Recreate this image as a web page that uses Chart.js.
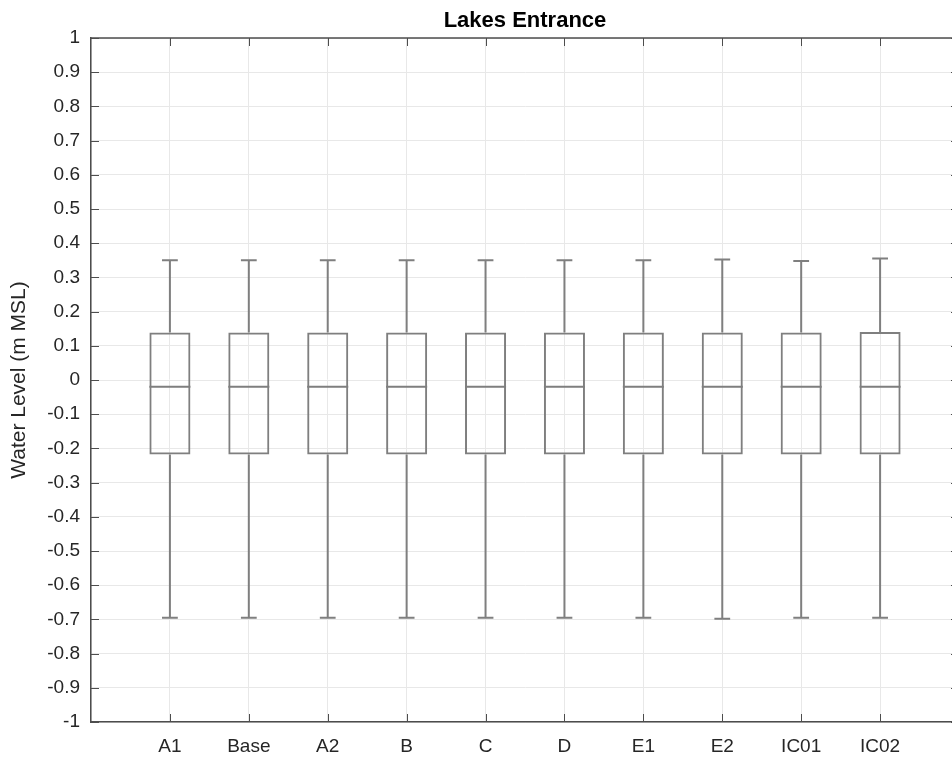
<!DOCTYPE html>
<html>
<head>
<meta charset="utf-8">
<script src="https://cdn.jsdelivr.net/npm/chart.js@4.4.0/dist/chart.umd.min.js"></script>
<style>
  body { margin: 0; background: #fff; overflow: hidden; }
  /* axes box runs slightly past the right edge of the window, as in the figure */
  #wrap { width: 959px; height: 758px; }
</style>
</head>
<body>
<div id="wrap"><canvas id="boxChart"></canvas></div>
<script>
// Box plot values (m MSL)
const categories = ['A1', 'Base', 'A2', 'B', 'C', 'D', 'E1', 'E2', 'IC01', 'IC02'];
const whiskerLow = [-0.695, -0.695, -0.695, -0.695, -0.695, -0.695, -0.695, -0.698, -0.695, -0.695];
const q1 = [-0.218, -0.218, -0.218, -0.218, -0.218, -0.218, -0.218, -0.218, -0.218, -0.218];
const median = [-0.02, -0.02, -0.02, -0.02, -0.02, -0.02, -0.02, -0.02, -0.02, -0.02];
const q3 = [0.139, 0.139, 0.139, 0.139, 0.139, 0.139, 0.139, 0.139, 0.139, 0.14];
const whiskerHigh = [0.35, 0.35, 0.35, 0.35, 0.35, 0.35, 0.35, 0.352, 0.348, 0.355];

const yMin = -1, yMax = 1, yStep = 0.1;

const lineColor = '#7f7f7f';
const axisColor = '#4d4d4d';
const textColor = '#262626';
const fontFamily = '"Liberation Sans", Arial, Helvetica, sans-serif';

const boxHalf = 0.26;  // half box width in category units
const capHalf = 0.1;

// build box, whisker, cap and median segments from the arrays
const boxes = categories.map((c, i) => ({ x: i + 1, y: [q1[i], q3[i]] }));
const whiskerPts = [];
const medianPts = [];
categories.forEach((c, i) => {
  const x = i + 1;
  whiskerPts.push({ x: x, y: q3[i] }, { x: x, y: whiskerHigh[i] }, { x: x, y: null });
  whiskerPts.push({ x: x, y: q1[i] }, { x: x, y: whiskerLow[i] }, { x: x, y: null });
  whiskerPts.push({ x: x - capHalf, y: whiskerHigh[i] }, { x: x + capHalf, y: whiskerHigh[i] }, { x: x, y: null });
  whiskerPts.push({ x: x - capHalf, y: whiskerLow[i] }, { x: x + capHalf, y: whiskerLow[i] }, { x: x, y: null });
  medianPts.push({ x: x - boxHalf, y: median[i] }, { x: x + boxHalf, y: median[i] }, { x: x, y: null });
});

// MATLAB style frame: inward ticks, top border and title
const framePlugin = {
  id: 'frame',
  afterDraw(chart) {
    const ctx = chart.ctx;
    const a = chart.chartArea;
    const xs = chart.scales.x, ys = chart.scales.y;
    ctx.save();
    ctx.strokeStyle = axisColor;
    ctx.lineWidth = 1;
    ctx.beginPath();
    ys.ticks.forEach(t => {
      const py = Math.round(ys.getPixelForValue(t.value)) + 0.5;
      ctx.moveTo(a.left, py); ctx.lineTo(a.left + 8, py);
      ctx.moveTo(a.right, py); ctx.lineTo(a.right - 8, py);
    });
    categories.forEach((c, i) => {
      const px = Math.round(xs.getPixelForValue(i + 1)) + 0.5;
      ctx.moveTo(px, a.bottom); ctx.lineTo(px, a.bottom - 8);
      ctx.moveTo(px, a.top); ctx.lineTo(px, a.top + 8);
    });
    ctx.stroke();
    ctx.lineWidth = 1.5;
    ctx.beginPath();
    ctx.moveTo(a.left, a.top); ctx.lineTo(a.right, a.top);
    ctx.lineTo(a.right, a.bottom);
    ctx.stroke();
    ctx.fillStyle = '#000';
    ctx.font = 'bold 22px ' + fontFamily;
    ctx.textAlign = 'center';
    ctx.textBaseline = 'middle';
    ctx.fillText('Lakes Entrance', (a.left + a.right) / 2, 21);
    ctx.restore();
  }
};

const ctx = document.getElementById('boxChart').getContext('2d');
new Chart(ctx, {
  type: 'bar',
  data: {
    datasets: [
      {
        label: 'Box',
        data: boxes,
        backgroundColor: 'rgba(0,0,0,0)',
        borderColor: lineColor,
        borderWidth: 2,
        borderSkipped: false,
        barPercentage: 0.52,
        categoryPercentage: 1
      },
      {
        type: 'line',
        label: 'Whiskers',
        data: whiskerPts,
        borderColor: lineColor,
        borderWidth: 2,
        pointRadius: 0,
        spanGaps: false,
        fill: false
      },
      {
        type: 'line',
        label: 'Median',
        data: medianPts,
        borderColor: lineColor,
        borderWidth: 2,
        pointRadius: 0,
        spanGaps: false,
        fill: false
      }
    ]
  },
  options: {
    responsive: true,
    maintainAspectRatio: false,
    animation: false,
    layout: { padding: { top: 38, right: 0, bottom: 0, left: 0 } },
    plugins: {
      legend: { display: false },
      tooltip: { enabled: false },
      title: { display: false }
    },
    scales: {
      x: {
        type: 'linear',
        min: 0,
        max: 11,
        offset: false,
        afterFit(scale) {
          scale.height = 36;
          scale.paddingLeft = 0;
          scale.paddingRight = 0;
        },
        grid: { color: '#e8e8e8', drawTicks: false, offset: false },
        border: { color: axisColor, width: 1.5 },
        ticks: {
          stepSize: 1,
          autoSkip: false,
          maxRotation: 0,
          padding: 13,
          color: textColor,
          font: { family: fontFamily, size: 19 },
          callback: (v) => categories[v - 1] || ''
        }
      },
      y: {
        min: yMin,
        max: yMax,
        afterFit(scale) { scale.width = 91; },
        grid: { color: '#e8e8e8', drawTicks: false },
        border: { color: axisColor, width: 1.5 },
        title: {
          display: true,
          text: 'Water Level (m MSL)',
          color: textColor,
          font: { family: fontFamily, size: 21 },
          padding: { top: 7, bottom: 0 }
        },
        ticks: {
          stepSize: yStep,
          autoSkip: false,
          padding: 11,
          color: textColor,
          font: { family: fontFamily, size: 19 },
          callback: (v) => String(Math.round(v * 10) / 10)
        }
      }
    }
  },
  plugins: [framePlugin]
});
</script>
</body>
</html>
